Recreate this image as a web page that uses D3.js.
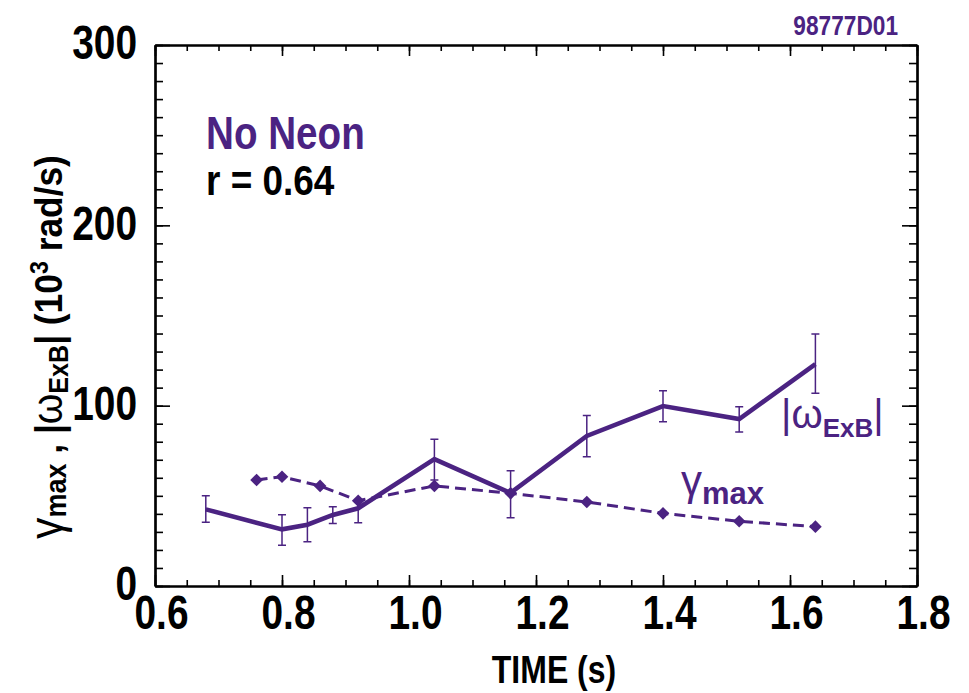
<!DOCTYPE html>
<html>
<head>
<meta charset="utf-8">
<script src="https://cdn.jsdelivr.net/npm/d3@7"></script>
<style>
  body { margin: 0; background: #fff; }
  svg { display: block; }
  text { font-family: "Liberation Sans", Arial, Helvetica, sans-serif; font-weight: bold; }
</style>
</head>
<body>
<svg id="chart" width="969" height="693"></svg>
<script>
// |omega ExB| with error bars (solid line)
const omegaTime = [0.68, 0.80, 0.84, 0.88, 0.92, 1.04, 1.16, 1.28, 1.40, 1.52, 1.64];
const omegaValues = [42.5, 31.4, 34.0, 39.4, 43.1, 70.4, 51.6, 83.2, 99.8, 92.6, 123.0];
const omegaLow = [35.3, 22.6, 24.6, 34.6, 35.1, 58.8, 37.9, 71.7, 91.1, 85.4, 106.9];
const omegaHigh = [50.1, 39.5, 43.4, 44.0, 47.7, 81.4, 63.9, 94.5, 108.3, 99.4, 139.8];

// gamma max (dashed line, diamonds)
const gammaTime = [0.76, 0.80, 0.86, 0.92, 1.04, 1.16, 1.28, 1.40, 1.52, 1.64];
const gammaValues = [58.8, 60.6, 55.5, 47.3, 55.5, 51.4, 46.6, 40.3, 35.9, 32.9];

const xTicks = [0.6, 0.8, 1.0, 1.2, 1.4, 1.6, 1.8];
const yTicks = [0, 100, 200, 300];

const purple = "#4b2382";
const width = 969, height = 693;
const margin = { top: 45, right: 52, bottom: 107, left: 155 };

const svg = d3.select("#chart");

const x = d3.scaleLinear().domain([0.6, 1.8]).range([margin.left, width - margin.right]);
const y = d3.scaleLinear().domain([0, 300]).range([height - margin.bottom, margin.top]);

const xMinor = d3.range(0.6, 1.8001, 0.05);
const yMinor = d3.range(0, 300.1, 10);
const sx = 0.81;

// minor ticks on all four sides
svg.append("g").attr("transform", `translate(0,${y(0)})`)
  .call(d3.axisBottom(x).tickValues(xMinor).tickSize(-6).tickSizeOuter(0).tickFormat(""));
svg.append("g").attr("transform", `translate(0,${y(300)})`)
  .call(d3.axisTop(x).tickValues(xMinor).tickSize(-6).tickSizeOuter(0).tickFormat(""));
svg.append("g").attr("transform", `translate(${x(0.6)},0)`)
  .call(d3.axisLeft(y).tickValues(yMinor).tickSize(-8).tickSizeOuter(0).tickFormat(""));
svg.append("g").attr("transform", `translate(${x(1.8)},0)`)
  .call(d3.axisRight(y).tickValues(yMinor).tickSize(-8).tickSizeOuter(0).tickFormat(""));

// major ticks + labels
const xAxis = svg.append("g").attr("transform", `translate(0,${y(0)})`)
  .call(d3.axisBottom(x).tickValues(xTicks).tickSize(-11).tickSizeOuter(0).tickPadding(9).tickFormat(d3.format(".1f")));
xAxis.selectAll("text")
  .attr("font-size", 48).attr("fill", "#000")
  .attr("x", 6 / sx).attr("transform", `scale(${sx},1)`);

svg.append("g").attr("transform", `translate(0,${y(300)})`)
  .call(d3.axisTop(x).tickValues(xTicks).tickSize(-11).tickSizeOuter(0).tickFormat(""));

const yAxis = svg.append("g").attr("transform", `translate(${x(0.6)},0)`)
  .call(d3.axisLeft(y).tickValues(yTicks).tickSize(-15).tickSizeOuter(0).tickFormat(d3.format("d")));
yAxis.selectAll("text")
  .attr("font-size", 48).attr("fill", "#000")
  .attr("x", -18 / sx).attr("dy", "0.29em").attr("transform", `scale(${sx},1)`);

svg.append("g").attr("transform", `translate(${x(1.8)},0)`)
  .call(d3.axisRight(y).tickValues(yTicks).tickSize(-15).tickSizeOuter(0).tickFormat(""));

svg.selectAll(".tick line").attr("stroke", "#000").attr("stroke-width", 1.6);
svg.selectAll(".domain").attr("stroke", "#000").attr("stroke-width", 2.2);

// gamma max dashed line + diamonds
const gammaPts = gammaTime.map((t, i) => [t, gammaValues[i]]);
svg.append("path")
  .datum(gammaPts)
  .attr("fill", "none")
  .attr("stroke", purple)
  .attr("stroke-width", 3)
  .attr("stroke-dasharray", "11,6")
  .attr("d", d3.line().x(d => x(d[0])).y(d => y(d[1])));

svg.append("g").selectAll("path")
  .data(gammaPts)
  .join("path")
  .attr("transform", d => `translate(${x(d[0])},${y(d[1])}) rotate(45)`)
  .attr("d", d3.symbol().type(d3.symbolSquare).size(80))
  .attr("fill", purple);

// error bars
const omegaPts = omegaTime.map((t, i) => ({ t, v: omegaValues[i], lo: omegaLow[i], hi: omegaHigh[i] }));
const eb = svg.append("g").attr("stroke", purple).attr("stroke-width", 1.5).attr("fill", "none");
eb.selectAll("path")
  .data(omegaPts)
  .join("path")
  .attr("d", d => {
    const cx = x(d.t), y1 = y(d.hi), y2 = y(d.lo);
    return `M${cx - 4},${y1}H${cx + 4}M${cx},${y1}V${y2}M${cx - 4},${y2}H${cx + 4}`;
  });

// omega ExB solid line
svg.append("path")
  .datum(omegaPts)
  .attr("fill", "none")
  .attr("stroke", purple)
  .attr("stroke-width", 4.6)
  .attr("stroke-linejoin", "miter")
  .attr("d", d3.line().x(d => x(d.t)).y(d => y(d.v)));

// helper for condensed text
function label(px, py, s, size, color, anchor, scale) {
  return svg.append("g").attr("transform", `translate(${px},${py})`)
    .append("text")
    .attr("transform", `scale(${scale},1)`)
    .attr("font-size", size)
    .attr("fill", color)
    .attr("text-anchor", anchor || "start")
    .text(s);
}

label(898, 35, "98777D01", 27, purple, "end", 0.84);
label(206, 149, "No Neon", 46, purple, "start", 0.84);
label(206, 195, "r = 0.64", 42, "#000", "start", 0.88);
label(554, 683, "TIME (s)", 39, "#000", "middle", 0.82);

// series labels
const omLab = svg.append("text").attr("x", 781).attr("y", 428).attr("fill", purple);
omLab.append("tspan").attr("font-size", 40).attr("font-weight", "normal").text("|ω");
omLab.append("tspan").attr("font-size", 26).attr("dy", 9).text("ExB");
omLab.append("tspan").attr("font-size", 40).attr("font-weight", "normal").attr("dy", -9).text("|");

const gLab = svg.append("text").attr("x", 681).attr("y", 495).attr("fill", purple);
gLab.append("tspan").attr("font-size", 42).attr("font-weight", "normal").text("γ");
gLab.append("tspan").attr("font-size", 31).attr("dy", 9).text("max");

// y axis title
const yt = svg.append("g").attr("transform", `translate(62,347) rotate(-90)`)
  .append("text").attr("text-anchor", "middle").attr("fill", "#000").attr("font-size", 38)
  .attr("transform", "scale(0.93,1)");
yt.append("tspan").attr("font-weight", "normal").attr("font-size", 46).text("γ");
yt.append("tspan").attr("font-size", 29).attr("dy", 4).text("max");
yt.append("tspan").attr("dy", -4).text(" , |");
yt.append("tspan").attr("font-weight", "normal").attr("font-size", 42).text("ω");
yt.append("tspan").attr("font-size", 27).attr("dy", 6).text("ExB");
yt.append("tspan").attr("dy", -6).text("| (10");
yt.append("tspan").attr("font-size", 25).attr("dy", -14).text("3");
yt.append("tspan").attr("dy", 14).text(" rad/s)");
</script>
</body>
</html>
